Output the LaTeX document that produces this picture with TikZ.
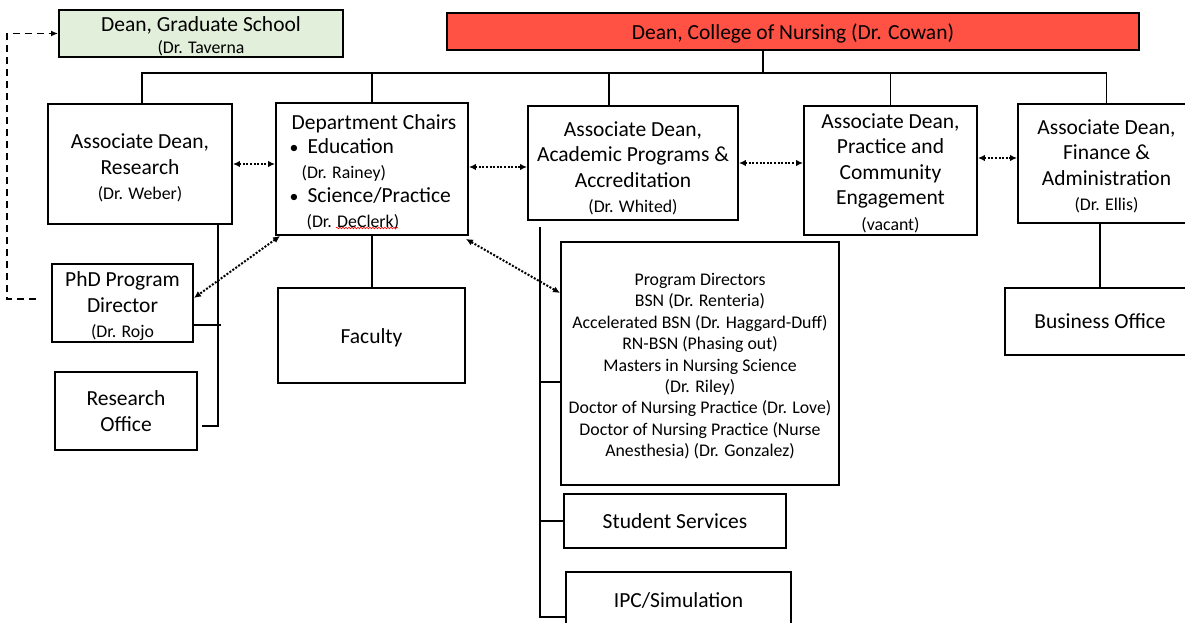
\documentclass[tikz,border=0pt]{standalone}
\usepackage{fontspec}
\setmainfont{Carlito}
\usepackage{xcolor}
\usepackage{tikz}
\usetikzlibrary{arrows.meta,decorations.pathmorphing}
\definecolor{gradgreen}{RGB}{226,239,218}
\definecolor{deanred}{RGB}{255,81,68}
\newcommand{\mainsz}{\fontsize{21.5pt}{25.5pt}\selectfont}
\newcommand{\smallsz}{\fontsize{17.8pt}{21.4pt}\selectfont}
\newcommand{\gap}[1]{\rule{0pt}{#1}}

\begin{document}
\begin{tikzpicture}[x=1pt,y=-1pt,
    unit/.style={draw,line width=1.9pt,inner sep=0pt,align=center,font=\mainsz},
    link/.style={line width=1.8pt},
    peer/.style={line width=2pt,dash pattern=on 2pt off 1.6pt,{Latex[length=7pt,width=6.5pt]}-{Latex[length=7pt,width=6.5pt]}}]
  \useasboundingbox (0,0) rectangle (1185,623);

  \node[unit,fill=gradgreen,minimum width=284,minimum height=47] (grad) at (201,33.5) {\gap{20pt}Dean, Graduate School\\[-3pt]{\smallsz (Dr. Taverna}};
  \node[unit,fill=deanred,minimum width=692,minimum height=37] (dean) at (793,31.5) {\gap{20pt}Dean, College of Nursing (Dr. Cowan)};

  \node[unit,minimum width=184,minimum height=120] (research) at (140,164) {\gap{23pt}Associate Dean,\\Research\\{\smallsz (Dr. Weber)}};
  \node[unit,align=left,minimum width=192,minimum height=132] (chairs) at (372,169) {\gap{21pt}\hspace*{4pt}Department Chairs\\[-1pt]\makebox[20pt][l]{\hspace*{2pt}\smallsz\textbullet}Education\\[-1pt]\hspace*{14pt}{\smallsz (Dr. Rainey)}\\[-1pt]\makebox[20pt][l]{\hspace*{2pt}\smallsz\textbullet}Science/Practice\\[-1pt]\hspace*{19pt}{\smallsz (Dr. DeClerk)}};
  \node[unit,minimum width=210,minimum height=114] (academic) at (633,163) {\gap{25pt}Associate Dean,\\Academic Programs \&\\Accreditation\\{\smallsz (Dr. Whited)}};
  \node[unit,minimum width=173,minimum height=129] (practice) at (890.5,170.5) {\gap{20pt}Associate Dean,\\Practice and\\Community\\Engagement\\{\smallsz (vacant)}};
  \node[unit,minimum width=177,minimum height=119] (finance) at (1106.5,163.5) {\gap{20pt}Associate Dean,\\Finance \&\\Administration\\{\smallsz (Dr. Ellis)}};

  \node[unit,minimum width=141,minimum height=78] (phd) at (122.5,303) {\gap{22pt}PhD Program\\Director\\{\smallsz (Dr. Rojo}};
  \node[unit,minimum width=142,minimum height=78] (resoffice) at (126,411) {Research\\Office};
  \node[unit,minimum width=187,minimum height=95] (faculty) at (371.5,335.5) {\gap{19pt}Faculty};
  \node[unit,font=\smallsz,minimum width=278,minimum height=243] (progdir) at (700,363.5) {\gap{17.5pt}Program Directors\\BSN (Dr. Renteria)\\Accelerated BSN (Dr. Haggard-Duff)\\RN-BSN (Phasing out)\\Masters in Nursing Science\\(Dr. Riley)\\Doctor of Nursing Practice (Dr. Love)\\Doctor of Nursing Practice (Nurse\\Anesthesia) (Dr. Gonzalez)};
  \node[unit,minimum width=222,minimum height=54] (students) at (675,521) {Student Services};
  \node[unit,minimum width=225,minimum height=56] (ipc) at (678.5,600) {IPC/Simulation};
  \node[unit,minimum width=190,minimum height=67] (business) at (1100,321.5) {Business Office};

  \coordinate (bus) at (763,73);
  \draw[link] (dean.south -| bus) -- (bus);
  \draw[link] ([xshift=2pt]research.north) |- (bus);
  \draw[link] (chairs.north) |- (bus);
  \draw[link] ([xshift=-24pt]academic.north) |- (bus);
  \draw[link] (practice.north) |- (bus);
  \draw[link] (finance.north) |- (bus);

  \coordinate (rspine) at ([xshift=-15pt]research.south east);
  \draw[link] (rspine) |- ([shift={(4pt,-15pt)}]resoffice.east);
  \draw[link] ([yshift=-22pt]phd.east) -- ++(27pt,0);
  \draw[link] (chairs.south) -- (chairs.south |- faculty.north);

  \coordinate (aspine) at ([shift={(13pt,-6pt)}]academic.south west);
  \draw[link] (aspine) |- ([yshift=-17pt]ipc.west);
  \draw[link] ([yshift=-18.5pt]progdir.west) -- ([yshift=-18.5pt]progdir.west -| aspine);
  \draw[link] (students.west) -- (students.west -| aspine);
  \draw[link] (business.north) -- (business.north |- finance.south);

  \draw[peer] (research.east) -- (research.east -| chairs.west);
  \draw[peer] ([yshift=2pt]chairs.east) -- ([yshift=2pt]chairs.east -| academic.west);
  \draw[peer] (academic.east) -- (academic.east -| practice.west);
  \draw[peer] ([yshift=12.5pt]practice.east) -- ([yshift=12.5pt]practice.east -| finance.west);
  \draw[peer] ([xshift=5pt]chairs.south west) -- ([yshift=5pt]phd.east);
  \draw[peer] ([shift={(-3pt,-3pt)}]chairs.south east) -- ([yshift=70.5pt]progdir.west);

  \draw[link,dash pattern=on 7pt off 5pt,-{Latex[length=7pt,width=6pt]}] ([shift={(-15pt,4pt)}]phd.west) -- ++(-29pt,0) |- (grad.west);
  \draw[red,line width=0.6pt,decorate,decoration={snake,amplitude=0.8pt,segment length=3pt}] ([shift={(-36pt,-59pt)}]chairs.center) -- ++(62pt,0);
\end{tikzpicture}
\end{document}
